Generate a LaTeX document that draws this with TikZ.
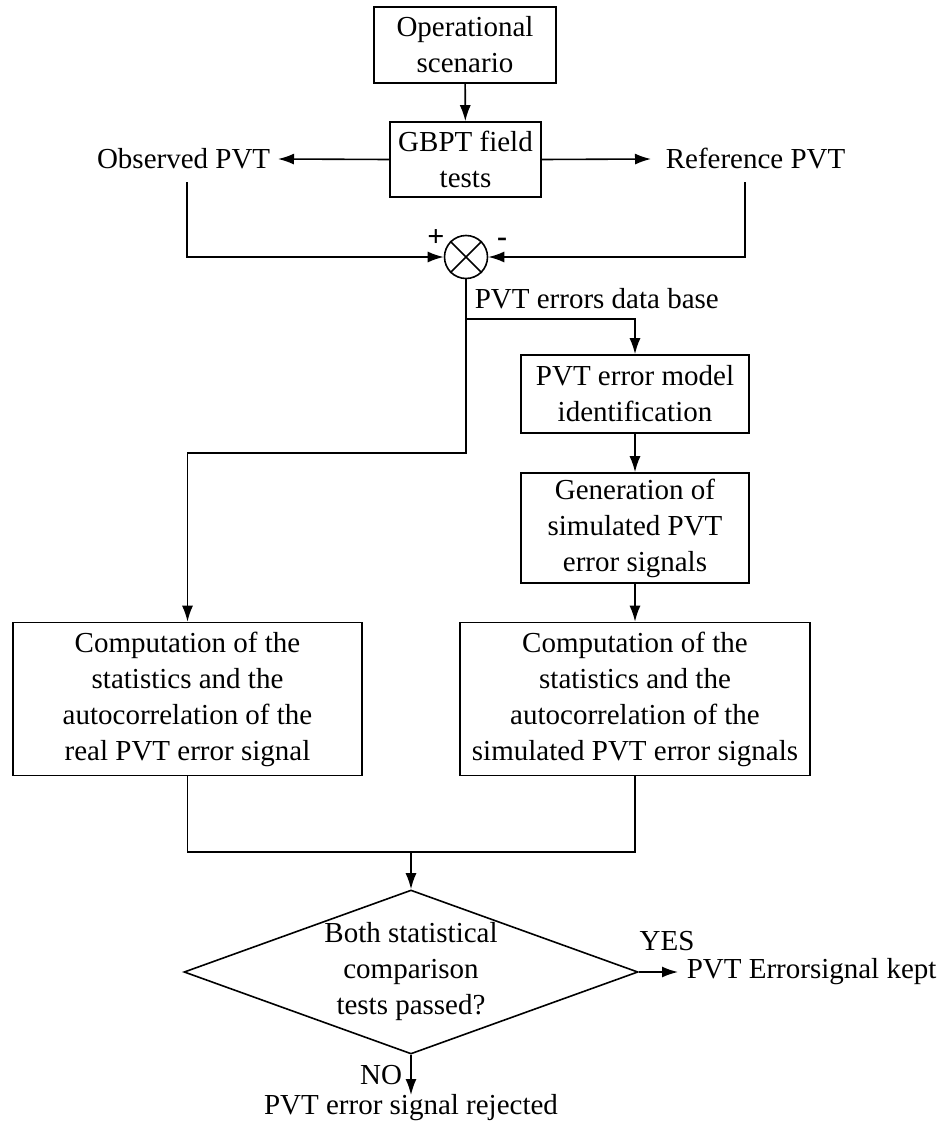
\documentclass[tikz,border=0pt]{standalone}
\usepackage{fontspec}
\setmainfont{Liberation Serif}
\usetikzlibrary{arrows.meta,shapes.geometric}
\begin{document}
\begin{tikzpicture}[x=1pt,y=-1pt,
  line width=1.6pt,
  arr/.style={-{Latex[length=16pt,width=11pt]}},
  txt/.style={font=\fontsize{29}{36}\selectfont, inner sep=0pt},
  sgn/.style={font=\fontsize{30}{30}\selectfont\bfseries, inner sep=0pt},
  boxn/.style={draw, rectangle, align=center, font=\fontsize{29}{36}\selectfont, inner sep=0pt}]
\useasboundingbox (0,0) rectangle (942,1127);
% boxes
\node[boxn, minimum width=182pt, minimum height=76pt] (op) at (465,45) {Operational\\scenario};
\node[boxn, minimum width=151pt, minimum height=75pt] (gb) at (465.5,159.5) {GBPT field\\tests};
\node[txt, anchor=east] (obs) at (271,159) {Observed PVT};
\node[txt, anchor=west] (ref) at (665,159) {Reference PVT};
\coordinate (obsd) at (187,182);
\coordinate (refd) at (745,182);
\node[draw, circle, minimum size=43pt, inner sep=0pt] (sum) at (466,257) {};
\draw (sum.45) -- (sum.225) (sum.135) -- (sum.315);
\node[sgn] (plus) at (436,238) {+};
\node[sgn] (minus) at (502,242) {-};
\node[txt, anchor=west] (db) at (474,299) {PVT errors data base};
\node[boxn, minimum width=228pt, minimum height=78pt] (mid) at (635,394) {PVT error model\\identification};
\node[boxn, minimum width=228pt, minimum height=110pt] (gen) at (635,528) {Generation of\\simulated PVT\\error signals};
\node[boxn, minimum width=349pt, minimum height=153pt] (cl) at (187.5,699) {Computation of the\\statistics and the\\autocorrelation of the\\real PVT error signal};
\node[boxn, minimum width=350pt, minimum height=153pt] (cr) at (635,699) {Computation of the\\statistics and the\\autocorrelation of the\\simulated PVT error signals};
\node[draw, diamond, aspect=2.77, minimum width=454pt, minimum height=164pt, inner sep=0pt, align=center, font=\fontsize{29}{36}\selectfont] (dec) at (411,972) {Both statistical\\comparison\\tests passed?};
\node[txt] (yes) at (667,941) {YES};
\node[txt, anchor=west] (kept) at (686,972) {PVT Errorsignal kept};
\node[txt] (no) at (381,1075) {NO};
\node[txt] (rej) at (411,1108) {PVT error signal rejected};
\coordinate (join) at (411,852);
\coordinate (br) at (466,319);
% connectors
\draw[arr] (op) -- (gb);
\draw[arr] (gb.west) -- (278,159);
\draw[arr] (gb.east) -- (651,159);
\draw[arr] (obsd) |- (sum.west);
\draw[arr] (refd) |- (sum.east);
\draw[arr] (sum.south) -- (466,453) -| (cl.north);
\draw[arr] (br) -| (mid.north);
\draw[arr] (mid) -- (gen);
\draw[arr] (gen) -- (cr);
\draw (cl.south) |- (join) -| (cr.south);
\draw[arr] (join) -- (dec.north);
\draw[arr] (dec.east) -- (678,972);
\draw[arr] (dec.south) -- (411,1095);
\end{tikzpicture}
\end{document}
